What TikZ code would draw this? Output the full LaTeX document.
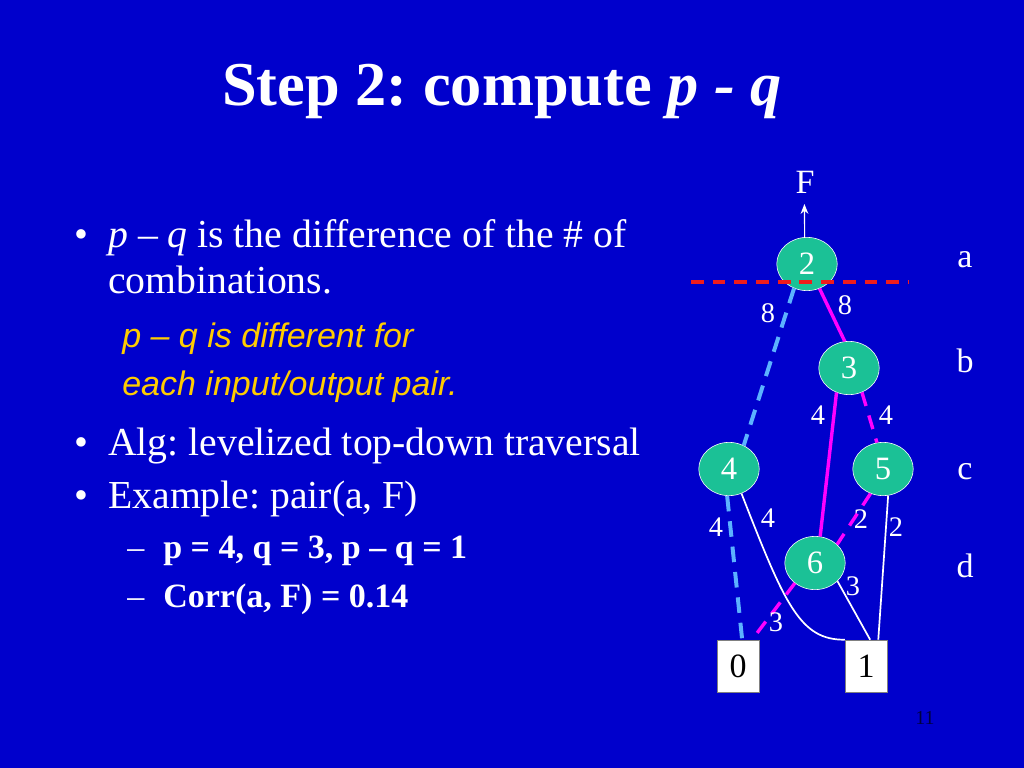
\documentclass[tikz,border=0pt]{standalone}
\usepackage{fontspec}
\setmainfont{Liberation Serif}
\newfontfamily\arialfont{Liberation Sans}
\usetikzlibrary{arrows.meta,shapes.geometric}
\definecolor{SlideBlue}{HTML}{0000CC}
\definecolor{NodeTeal}{HTML}{1BC196}
\definecolor{EdgeSky}{HTML}{5CB2FF}
\definecolor{EdgeMagenta}{HTML}{FF00FF}
\definecolor{CutRed}{HTML}{F01C1C}
\definecolor{NoteGold}{HTML}{FFCC00}
\definecolor{PageNavy}{HTML}{000040}
\newcommand{\fs}[1]{\fontsize{#1}{#1}\selectfont}
\frenchspacing

\begin{document}
\begin{tikzpicture}[>=Stealth,x=0.0248cm,y=-0.0248cm,
  vtx/.style={ellipse,draw=white,fill=NodeTeal,minimum width=1.5cm,minimum height=1.32cm,inner sep=0pt,text=white,font=\fs{23}},
  leaf/.style={rectangle,draw=gray,fill=white,minimum width=1.04cm,minimum height=1.29cm,inner sep=0pt,font=\fs{24}},
  wt/.style={text=white,inner sep=0pt,font=\fs{20}},
  lvl/.style={text=white,inner sep=0pt,font=\fs{24}},
  body/.style={text=white,anchor=base west,inner sep=0pt,font=\fs{28}},
  note/.style={text=NoteGold,anchor=base west,inner sep=0pt,font=\arialfont\itshape\fs{24}},
  sub/.style={text=white,anchor=base west,inner sep=0pt,font=\bfseries\fs{24}},
  hi/.style={EdgeMagenta,line width=2.4pt},
  hidash/.style={hi,dash pattern=on 10pt off 7pt},
  lo/.style={EdgeSky,line width=2.8pt,dash pattern=on 11pt off 7pt},
  plain/.style={white,line width=1.2pt}]
  \fill[SlideBlue] (0,0) rectangle (1024,768);
  \node[text=white,anchor=base,inner sep=0pt,font=\bfseries\fs{44}] (title) at (502,106) {Step 2: compute \textit{p - q}};

  \node[body] (b1) at (74,247) {•};
  \node[body] (t1) at (108,247) {\textit{p} – \textit{q} is the difference of the \# of};
  \node[body] (t2) at (108,293) {combinations.};
  \node[note] (n1) at (122,347) {p – q is different for};
  \node[note] (n2) at (122,395) {each input/output pair.};
  \node[body] (b2) at (74,455) {•};
  \node[body] (t3) at (108,455) {Alg: levelized top-down traversal};
  \node[body] (b3) at (74,508) {•};
  \node[body] (t4) at (108,508) {Example: pair(a, F)};
  \node[sub,font=\fs{24}] (d1) at (127,558) {–};
  \node[sub] (s1) at (163,558) {p = 4, q = 3, p – q = 1};
  \node[sub,font=\fs{24}] (d2) at (127,607) {–};
  \node[sub] (s2) at (163,607) {Corr(a, F) = 0.14};

  \node[vtx] (v2) at (807,264) {2};
  \node[vtx] (v3) at (849,368) {3};
  \node[vtx] (v4) at (729,469) {4};
  \node[vtx] (v5) at (883,469) {5};
  \node[vtx] (v6) at (815,563) {6};
  \node[leaf] (c0) at (738,666) {0};
  \node[leaf] (c1) at (866,666) {1};
  \node[lvl] (out) at (805,182) {F};
  \node[lvl] (la) at (965,260) {a};
  \node[lvl] (lb) at (965,361) {b};
  \node[lvl] (lc) at (965,472) {c};
  \node[lvl] (ld) at (965,566) {d};

  \coordinate (cutL) at (691,282);
  \coordinate (cutR) at (908,282);
  \coordinate (tip) at (804.4,204);
  \draw[CutRed,line width=2.3pt,dash pattern=on 9pt off 6.3pt] (cutL) -- (cutR);
  \draw[white,line width=0.8pt,-{Stealth[length=7pt,width=5.5pt]}] (v2.95) -- (tip);

  \draw[lo] (v2.-118) -- (v4.58);
  \draw[hi] (v2.-63) -- (v3.99);
  \draw[hi] (v3.-117) -- (v6.79);
  \draw[hidash] (v3.-62) -- (v5.103);
  \draw[lo] (v4.-94) -- (c0.81);
  \draw[plain] (v4.-63) .. controls (785,605) and (800,640) .. (c1.north west);
  \draw[hidash] (v5.-117) -- (v6.40);
  \draw[plain] (v5.-79) -- (c1.65);
  \draw[hidash] (v6.-135) -- (c0.62);
  \draw[plain] (v6.-39) -- (c1.81);

  \node[wt] (w24) at (768,313) {8};
  \node[wt] (w23) at (845,305) {8};
  \node[wt] (w36) at (818,415) {4};
  \node[wt] (w35) at (886,415) {4};
  \node[wt] (w40) at (716,527) {4};
  \node[wt] (w41) at (768,518) {4};
  \node[wt] (w56) at (861,519) {2};
  \node[wt] (w51) at (896,527) {2};
  \node[wt] (w60) at (776,622) {3};
  \node[wt] (w61) at (853,586) {3};

  \node[text=PageNavy,inner sep=0pt,font=\fs{14}] (page) at (925,718) {11};
\end{tikzpicture}
\end{document}
